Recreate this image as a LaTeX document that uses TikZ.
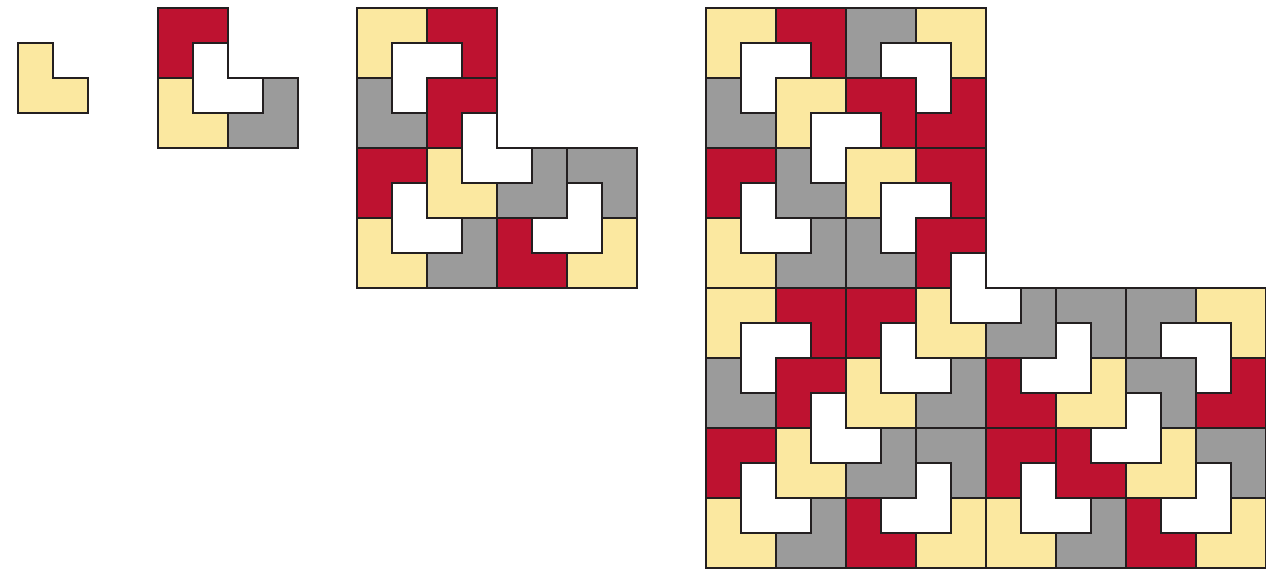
\documentclass[tikz,border=0pt]{standalone}
\definecolor{tyel}{HTML}{FBE8A0}
\definecolor{tred}{HTML}{BE1230}
\definecolor{tgry}{HTML}{9B9B9B}
\definecolor{tline}{HTML}{231F20}
\tikzset{
  tile/.style={draw=tline,line width=1.1pt},
  notr/.style={},
  notl/.style={rotate around={90:(1,1)}},
  nobl/.style={rotate around={180:(1,1)}},
  nobr/.style={rotate around={270:(1,1)}},
}
\begin{document}
\begin{tikzpicture}[x=0.7cm,y=-0.7cm]
  \useasboundingbox (0,0) rectangle (36.171,16.4);
  \begin{scope}[shift={(0.514,1.229)}]
    \foreach \c/\x/\y/\o in {tyel/0/0/notr}
      \filldraw[tile,fill=\c,shift={(\x,\y)},\o] (0,0) -| (1,1) -| (2,2) -- (0,2) -- cycle;
  \end{scope}
  \begin{scope}[shift={(4.514,0.229)}]
    \foreach \c/\x/\y/\o in {tred/0/0/nobr,white/1/1/notr,tyel/0/2/notr,tgry/2/2/notl}
      \filldraw[tile,fill=\c,shift={(\x,\y)},\o] (0,0) -| (1,1) -| (2,2) -- (0,2) -- cycle;
  \end{scope}
  \begin{scope}[shift={(10.2,0.229)}]
    \foreach \c/\x/\y/\o in {tyel/0/0/nobr,tred/2/0/nobl,white/1/1/nobr,tgry/0/2/notr,
        tred/2/2/nobr,white/3/3/notr,tyel/2/4/notr,tgry/4/4/notl,
        tred/0/4/nobr,white/1/5/notr,tyel/0/6/notr,tgry/2/6/notl,
        tgry/6/4/nobl,white/5/5/notl,tred/4/6/notr,tyel/6/6/notl}
      \filldraw[tile,fill=\c,shift={(\x,\y)},\o] (0,0) -| (1,1) -| (2,2) -- (0,2) -- cycle;
  \end{scope}
  \begin{scope}[shift={(20.171,0.229)}]
    \foreach \c/\x/\y/\o in {tyel/0/0/nobr,tred/2/0/nobl,white/1/1/nobr,tgry/0/2/notr,
        tgry/4/0/nobr,tyel/6/0/nobl,white/5/1/nobl,tred/6/2/notl,
        tred/0/4/nobr,white/1/5/notr,tyel/0/6/notr,tgry/2/6/notl,
        tyel/2/2/nobr,tred/4/2/nobl,white/3/3/nobr,tgry/2/4/notr,
        tyel/4/4/nobr,tred/6/4/nobl,white/5/5/nobr,tgry/4/6/notr,
        tred/6/6/nobr,white/7/7/notr,tyel/6/8/notr,tgry/8/8/notl,
        tred/4/8/nobr,white/5/9/notr,tyel/4/10/notr,tgry/6/10/notl,
        tgry/10/8/nobl,white/9/9/notl,tred/8/10/notr,tyel/10/10/notl,
        tyel/0/8/nobr,tred/2/8/nobl,white/1/9/nobr,tgry/0/10/notr,
        tred/2/10/nobr,white/3/11/notr,tyel/2/12/notr,tgry/4/12/notl,
        tred/0/12/nobr,white/1/13/notr,tyel/0/14/notr,tgry/2/14/notl,
        tgry/6/12/nobl,white/5/13/notl,tred/4/14/notr,tyel/6/14/notl,
        tgry/12/8/nobr,tyel/14/8/nobl,white/13/9/nobl,tred/14/10/notl,
        tgry/12/10/nobl,white/11/11/notl,tred/10/12/notr,tyel/12/12/notl,
        tred/8/12/nobr,white/9/13/notr,tyel/8/14/notr,tgry/10/14/notl,
        tgry/14/12/nobl,white/13/13/notl,tred/12/14/notr,tyel/14/14/notl}
      \filldraw[tile,fill=\c,shift={(\x,\y)},\o] (0,0) -| (1,1) -| (2,2) -- (0,2) -- cycle;
  \end{scope}
\end{tikzpicture}
\end{document}
